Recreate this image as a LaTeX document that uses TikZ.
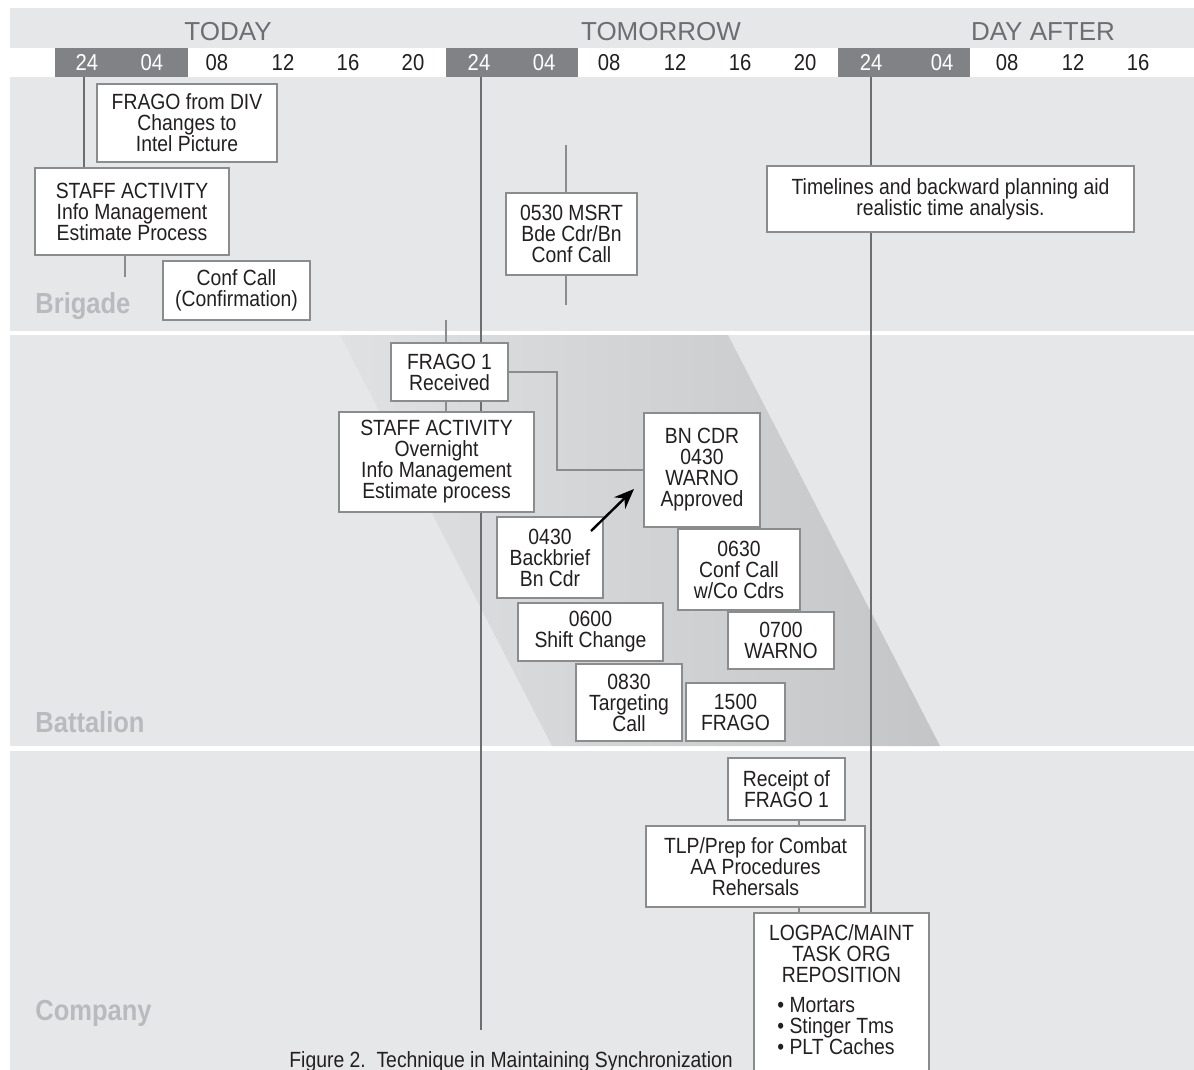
\documentclass[tikz,border=0pt]{standalone}
\usepackage{fontspec}
\setmainfont{Liberation Sans}[FakeStretch=0.88]
\newfontfamily\hdrfont{Liberation Sans}
\usetikzlibrary{arrows.meta,calc}
\definecolor{bgc}{HTML}{E6E7E9}
\definecolor{dk}{HTML}{808285}
\definecolor{hdr}{HTML}{6D6E71}
\definecolor{vln}{HTML}{6D6E71}
\definecolor{bdr}{HTML}{8A8C8E}
\definecolor{lane}{HTML}{B8BABD}
\definecolor{txt}{HTML}{231F20}
\definecolor{shL}{HTML}{E0E1E3}
\definecolor{shR}{HTML}{C4C5C7}
\pgfdeclarelayer{back}
\pgfdeclarelayer{mid}
\pgfsetlayers{back,mid,main}
\begin{document}
\begin{tikzpicture}[x=0.5pt,y=-0.5pt,
  box/.style={draw=bdr, line width=1pt, fill=white, inner sep=0pt, align=center, text=txt, font=\fontsize{11}{10.5}\selectfont},
  plain/.style={inner sep=0pt, text=txt, font=\fontsize{11}{10.5}\selectfont},
  conn/.style={draw=bdr, line width=1pt},
  mainline/.style={draw=vln, line width=1.4pt},
  hourW/.style={anchor=base, inner sep=0pt, text=white, font=\fontsize{11.5}{11.5}\selectfont},
  hourB/.style={anchor=base, inner sep=0pt, text=txt, font=\fontsize{11.5}{11.5}\selectfont},
  dayl/.style={anchor=base, inner sep=0pt, text=hdr, font=\hdrfont\fontsize{13}{13}\selectfont},
  lanel/.style={anchor=base west, inner sep=0pt, text=lane, font=\fontsize{14.5}{14.5}\bfseries\selectfont},
]
\useasboundingbox (0,0) rectangle (1194,1070);
\clip (0,0) rectangle (1194,1070);

% ---------- backgrounds ----------
\begin{pgfonlayer}{back}
\fill[white] (0,0) rectangle (1194,1070);
\fill[bgc] (10,8) rectangle (1194,48);
\fill[bgc] (10,77) rectangle (1194,331);
\fill[bgc] (10,335) rectangle (1194,746);
\fill[bgc] (10,751) rectangle (1194,1070);
\shade[left color=shL, right color=shR] (340,335) -- (728,335) -- (940,746) -- (552,746) -- cycle;
\fill[dk] (55,48) rectangle (188,77);
\fill[dk] (446,48) rectangle (578,77);
\fill[dk] (838,48) rectangle (970,77);
\end{pgfonlayer}

% ---------- header ----------
\node[dayl] (today) at (228,41) {TODAY};
\node[dayl] (tomorrow) at (661,41) {TOMORROW};
\node[dayl] (dayafter) at (1043,41) {DAY AFTER};
\foreach \x/\t in {87/24,152/04,479/24,544/04,871/24,942/04}
  \node[hourW] (hw\x) at (\x,71) {\t};
\foreach \x/\t in {217/08,283/12,348/16,413/20,609/08,675/12,740/16,805/20,1007/08,1073/12,1138/16}
  \node[hourB] (hb\x) at (\x,71) {\t};

% ---------- lane labels ----------
\node[lanel] (brigade) at (35,313) {Brigade};
\node[lanel] (battalion) at (35,732) {Battalion};
\node[lanel] (company) at (35,1020) {Company};

% ---------- brigade boxes ----------
\node[box, minimum width=90pt, minimum height=39pt] (fragodiv) at (187,123) {FRAGO from DIV\\Changes to\\Intel Picture};
\node[box, minimum width=97pt, minimum height=43.5pt] (bstaff) at (132,211.5) {STAFF ACTIVITY\\Info Management\\Estimate Process};
\node[box, minimum width=73.5pt, minimum height=29.5pt] (confcall) at (236.5,290.5) {Conf Call\\(Confirmation)};
\node[box, minimum width=65.5pt, minimum height=41pt] (msrt) at (571.5,234) {0530 MSRT\\Bde Cdr/Bn\\Conf Call};
\node[box, minimum width=183.5pt, minimum height=33pt] (timelines) at (950.5,199) {Timelines and backward planning aid\\realistic time analysis.};

% ---------- battalion boxes ----------
\node[box, minimum width=58.5pt, minimum height=29pt] (frago1) at (449.5,372) {FRAGO 1\\Received};
\node[box, minimum width=97.5pt, minimum height=50pt] (nstaff) at (436.5,462) {STAFF ACTIVITY\\Overnight\\Info Management\\Estimate process};
\node[box, minimum width=58pt, minimum height=57pt] (bncdr) at (702,470) {BN CDR\\0430\\WARNO\\Approved};
\node[box, minimum width=53pt, minimum height=40.5pt] (backbrief) at (550,557.5) {0430\\Backbrief\\Bn Cdr};
\node[box, minimum width=61pt, minimum height=40.5pt] (conf630) at (739,569.5) {0630\\Conf Call\\w/Co Cdrs};
\node[box, minimum width=72.5pt, minimum height=29pt] (shift) at (590.5,632) {0600\\Shift Change};
\node[box, minimum width=53pt, minimum height=28.5pt] (warno700) at (781,640.5) {0700\\WARNO};
\node[box, minimum width=53pt, minimum height=38.5pt] (targeting) at (629,702.5) {0830\\Targeting\\Call};
\node[box, minimum width=49.5pt, minimum height=29pt] (frago1500) at (735.5,712) {1500\\FRAGO};

% ---------- company boxes ----------
\node[box, minimum width=58.5pt, minimum height=31pt] (receipt) at (786.5,789) {Receipt of\\FRAGO 1};
\node[box, minimum width=109.5pt, minimum height=40.5pt] (tlp) at (755.5,866.5) {TLP/Prep for Combat\\AA Procedures\\Rehersals};
\node[box, minimum width=87.5pt, minimum height=89pt, anchor=north] (logpac) at (841.5,912) {};
\node[plain, align=center, anchor=north] (logpactitle) at (841.5,924) {LOGPAC/MAINT\\TASK ORG\\REPOSITION};
\node[plain, align=left, anchor=north west] (logpaclist) at (777,997) {\textbullet\ Mortars\\\textbullet\ Stinger Tms\\\textbullet\ PLT Caches};

% ---------- caption ----------
\node[plain, anchor=base west] (caption) at (289,1067) {Figure 2.\ \ Technique in Maintaining Synchronization};

% ---------- connectors ----------
\coordinate (v1t) at (84,77);
\coordinate (v2t) at (481,77);
\coordinate (v2b) at (481,1030);
\coordinate (v3t) at (871,77);
\coordinate (bst) at (125,277);
\coordinate (mst) at (566,145);
\coordinate (msb) at (566,305);
\coordinate (frt) at (446,320);
\coordinate (elb) at (557,420);
\coordinate (arrT) at (591,531);
\coordinate (arrH) at (634,489);
\coordinate (cox) at (799,820);

\begin{pgfonlayer}{mid}
\draw[mainline] (v1t) -- (v1t |- bstaff.north);
\draw[mainline] (v2t) -- (v2b);
\draw[mainline] (v3t) -- (v3t |- logpac.north);
\draw[conn] (bst |- bstaff.south) -- (bst);
\draw[conn] (mst) -- (mst |- msrt.north);
\draw[conn] (mst |- msrt.south) -- (msb);
\draw[conn] (frt) -- (frt |- frago1.north);
\draw[conn] (frt |- frago1.south) -- (frt |- nstaff.north);
\draw[conn] (frago1.east) -| (elb) |- (bncdr.west);
\draw[conn] (cox |- receipt.south) -- (cox |- tlp.north);
\draw[conn] (cox |- tlp.south) -- (cox |- logpac.north);
\end{pgfonlayer}

\draw[line width=1.2pt, -{Stealth[length=10pt,width=8pt]}] (arrT) -- (arrH);
\end{tikzpicture}
\end{document}
